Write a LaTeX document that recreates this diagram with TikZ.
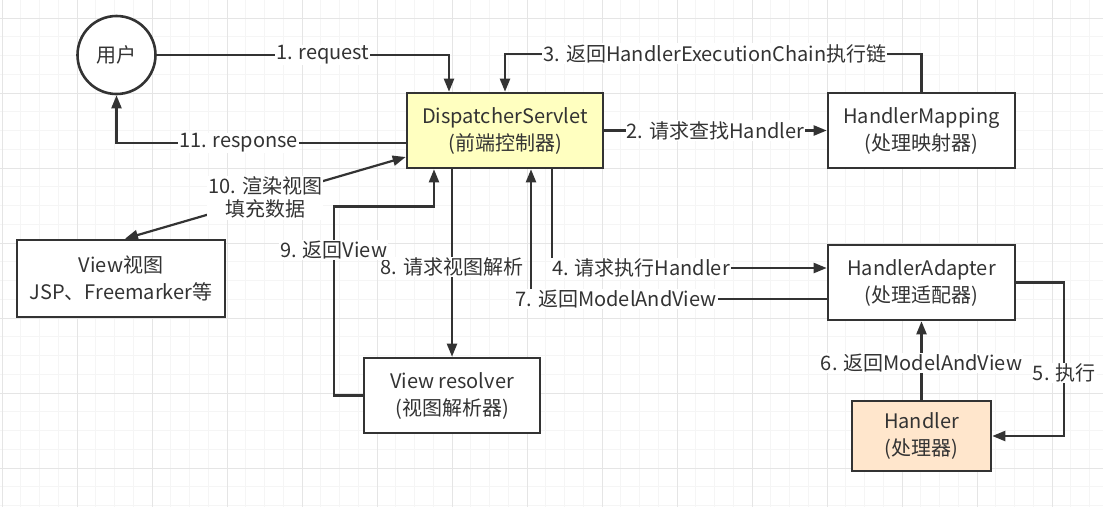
\documentclass[tikz,border=0pt]{standalone}
\usepackage{fontspec}
\setmainfont{Noto Sans CJK SC}
\usepackage{xcolor}
\usetikzlibrary{arrows.meta}
\definecolor{linegray}{HTML}{333333}
\definecolor{dsyellow}{HTML}{FFFFC0}
\definecolor{hdpeach}{HTML}{FFE6CC}
\tikzset{
	box/.style={draw=linegray, line width=2.6pt, fill=white, text=linegray, align=center, minimum height=75pt, inner sep=0pt, font=\fontsize{20}{27}\selectfont},
	arr/.style={draw=linegray, line width=2.2pt, -{Triangle[length=13pt,width=10pt]}},
	lbl/.style={fill=white, text=linegray, inner sep=1pt, align=center, font=\fontsize{20}{23}\selectfont},
	minorline/.style={draw=gray!8, line width=0.8pt},
	majorline/.style={draw=gray!20, line width=1pt},
}

\begin{document}
\begin{tikzpicture}[x=1pt, y=-1pt]
				\useasboundingbox (0,0) rectangle (1103,507);
				\fill[white] (0,0) rectangle (1103,507);
				% grid
				\foreach \i in {0,...,58} \draw[minorline] ({2+18.75*\i},0) -- ({2+18.75*\i},507);
				\foreach \i in {-1,...,26} \draw[minorline] (0,{18+18.75*\i}) -- (1103,{18+18.75*\i});
				\foreach \i in {0,...,14} \draw[majorline] ({2+75*\i},0) -- ({2+75*\i},507);
				\foreach \i in {0,...,6} \draw[majorline] (0,{18+75*\i}) -- (1103,{18+75*\i});
				% nodes
				\node[circle, draw=linegray, line width=2.6pt, fill=white, minimum size=78pt, inner sep=0pt, text=linegray, font=\fontsize{20}{24}\selectfont] (user) at (116.5,55) {用户};
				\node[box, fill=dsyellow, minimum width=196pt] (ds) at (505,130.5) {DispatcherServlet\\(前端控制器)};
				\node[box, minimum width=187pt] (hm) at (921.5,130.5) {HandlerMapping\\(处理映射器)};
				\node[box, minimum width=187pt] (ha) at (921.5,282.5) {HandlerAdapter\\(处理适配器)};
				\node[box, fill=hdpeach, minimum width=139pt, minimum height=70pt] (hd) at (921.5,436) {Handler\\(处理器)};
				\node[box, minimum width=176pt] (vr) at (452,395.5) {View resolver\\(视图解析器)};
				\node[box, minimum width=208pt, minimum height=77pt] (view) at (121,278.5) {View视图\\JSP、Freemarker等};
				% connectors
				\draw[arr] (user.east) -| ([xshift=-56pt]ds.north) node[lbl, pos=0.284] {1. request};
				\draw[arr] (ds.east) -- (hm.west) node[lbl, pos=0.5] {2. 请求查找Handler};
				\draw[arr] (hm.north) -- ++(0,-38) -| (ds.north) node[lbl, pos=0.248] {3. 返回HandlerExecutionChain执行链};
				\draw[arr] ([xshift=47pt]ds.south) |- ([yshift=14.5pt]ha.west) node[lbl, pos=0.662] {4. 请求执行Handler};
				\draw[arr] (ha.east) -- ++(48,0) |- (hd.east) node[lbl, pos=0.295] {5. 执行};
				\draw[arr] (hd.north) -- (ha.south) node[lbl, pos=0.47] {6. 返回ModelAndView};
				\draw[arr] ([yshift=-16.5pt]ha.west) -| ([xshift=26pt]ds.south) node[lbl, pos=0.356] {7. 返回ModelAndView};
				\draw[arr] (ds.south -| vr.north) -- (vr.north) node[lbl, pos=0.52] {8. 请求视图解析};
				\draw[arr] (vr.west) -- ++(-29,0) -- ++(0,-189) node[lbl, pos=0.77] {9. 返回View} -| ([xshift=-71pt]ds.south);
				\draw[arr, {Triangle[length=13pt,width=10pt]}-{Triangle[length=13pt,width=10pt]}] ([yshift=-26.5pt]ds.west) -- ([xshift=4pt]view.north) node[lbl, pos=0.5] {10. 渲染视图\\填充数据};
				\draw[arr] ([yshift=-12.5pt]ds.west) -| (user.south) node[lbl, pos=0.289] {11. response};
\end{tikzpicture}
\end{document}
